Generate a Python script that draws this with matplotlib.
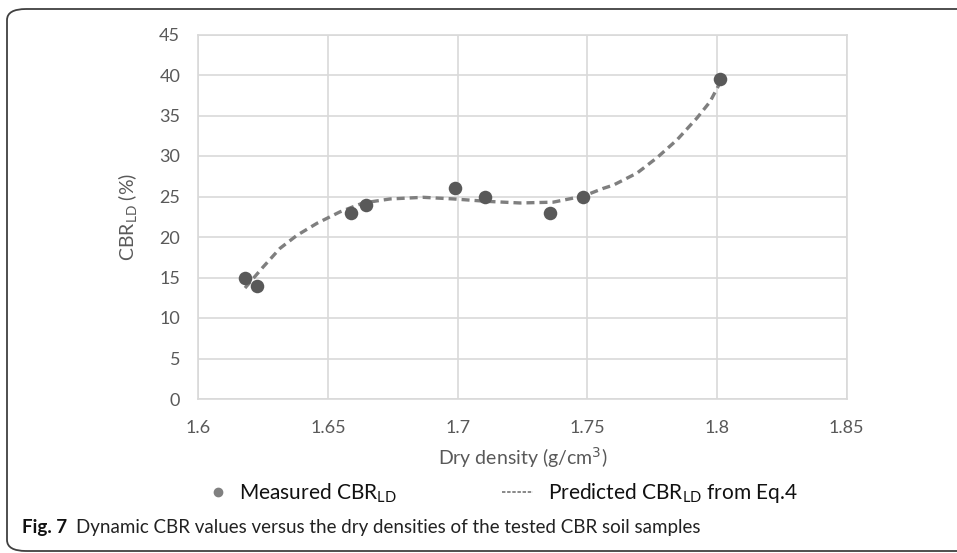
import matplotlib
matplotlib.use("Agg")
import matplotlib.pyplot as plt
from matplotlib.patches import FancyBboxPatch
from matplotlib.lines import Line2D

# measured CBR_LD points
density = [1.618, 1.6225, 1.659, 1.6645, 1.699, 1.7105, 1.7355, 1.7485, 1.8012]
cbr = [15, 14, 23, 24, 26, 25, 23, 25, 39.5]

# predicted curve (Eq.4)
pred_density = [1.618, 1.625, 1.6315, 1.638, 1.6458, 1.6546, 1.6635, 1.674, 1.6867,
                1.6983, 1.7114, 1.7241, 1.7368, 1.7461, 1.7497, 1.7561, 1.7600,
                1.7692, 1.7769, 1.7846, 1.7923, 1.7973, 1.8011]
pred_cbr = [13.7, 16.3, 18.6, 20.2, 21.7, 23.1, 24.2, 24.7, 24.9,
            24.7, 24.4, 24.2, 24.3, 24.9, 25.2, 26.0, 26.4,
            27.9, 29.8, 32.0, 34.7, 36.7, 39.0]

xticks = [1.6, 1.65, 1.7, 1.75, 1.8, 1.85]
xtick_labels = ["1.6", "1.65", "1.7", "1.75", "1.8", "1.85"]
yticks = list(range(0, 50, 5))

plt.rcParams["font.family"] = ["Lato", "DejaVu Sans"]

W, H = 957, 553
fig = plt.figure(figsize=(W / 100, H / 100), dpi=100)
ax_l, ax_r, ax_t, ax_b = 198.3, 846.7, 34.5, 399
ax = fig.add_axes([ax_l / W, 1 - ax_b / H, (ax_r - ax_l) / W, (ax_b - ax_t) / H])

grid_c = "#d9d9d9"
tick_c = "#595959"
pt_c = "#595959"
line_c = "#7f7f7f"

ax.plot(pred_density, pred_cbr, color=line_c, lw=2.4, ls=(0, (2.4, 1.5)), zorder=2)
ax.scatter(density, cbr, s=95, color=pt_c, zorder=3, linewidths=0)

ax.set_xlim(1.6, 1.85)
ax.set_ylim(0, 45)
ax.set_xticks(xticks)
ax.set_xticklabels(xtick_labels)
ax.set_yticks(yticks)
ax.grid(True, color=grid_c, lw=1.2)
ax.set_axisbelow(True)
for s in ax.spines.values():
    s.set_color(grid_c)
    s.set_linewidth(1.2)
ax.tick_params(length=0, labelsize=13, labelcolor=tick_c)
ax.tick_params(axis="x", pad=15)
ax.tick_params(axis="y", pad=13)

ax.set_xlabel("Dry density (g/cm$^3$)", fontsize=14, color=tick_c)
ax.xaxis.set_label_coords(0.5, (ax_b - 458) / (ax_b - ax_t))
ax.xaxis.label.set_va("center")
ax.set_ylabel("CBR$_{\\mathregular{LD}}$ (%)", fontsize=14, color=tick_c)
ax.yaxis.set_label_coords((128 - ax_l) / (ax_r - ax_l), 0.5)
ax.yaxis.label.set_va("center")

# legend, two pieces so each handle gets its own length
leg_y = 1 - 493 / H
h1 = Line2D([], [], marker="o", ls="none", color="#808080", markersize=6)
fig.legend([h1], ["Measured CBR$_{\\mathregular{LD}}$"], loc="center left",
           bbox_to_anchor=(208 / W, leg_y), frameon=False, fontsize=15,
           handlelength=1.0, handletextpad=0.5, borderpad=0,
           borderaxespad=0, labelcolor="#111111")
h2 = Line2D([], [], color=line_c, lw=1.3, ls=(0, (1.9, 0.95)))
fig.legend([h2], ["Predicted CBR$_{\\mathregular{LD}}$ from Eq.4"], loc="center left",
           bbox_to_anchor=(502 / W, leg_y), frameon=False, fontsize=15,
           handlelength=1.5, handletextpad=0.7, borderpad=0,
           borderaxespad=0, labelcolor="#111111")

# caption
fig.text(22 / W, 1 - 528 / H, "Fig. 7", fontsize=13.5, fontweight="bold",
         va="center", ha="left", color="#111111")
fig.text(76 / W, 1 - 528 / H,
         "Dynamic CBR values versus the dry densities of the tested CBR soil samples",
         fontsize=13.5, va="center", ha="left", color="#222222")

# rounded border (runs off the right edge)
border = FancyBboxPatch((7 / W, 1 - 551 / H), 1000 / W, 542 / H,
                        boxstyle="round,pad=0,rounding_size=0.02",
                        transform=fig.transFigure, fill=False,
                        edgecolor="#404040", lw=1.3, clip_on=False)
fig.patches.append(border)

fig.savefig("out.png", dpi=100)
